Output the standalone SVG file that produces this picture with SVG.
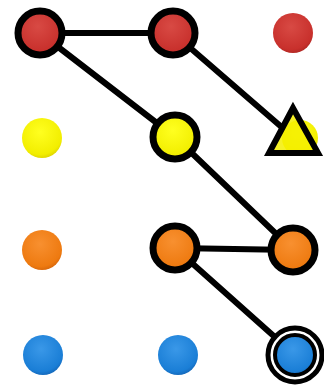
<svg xmlns="http://www.w3.org/2000/svg" width="324" height="392" viewBox="0 0 324 392">
<defs>
<radialGradient id="gr" cx="0.45" cy="0.35" r="0.7"><stop offset="0" stop-color="#d84a44"/><stop offset="0.8" stop-color="#c8302c"/><stop offset="1" stop-color="#a82420"/></radialGradient>
<radialGradient id="gy" cx="0.45" cy="0.35" r="0.7"><stop offset="0" stop-color="#ffff20"/><stop offset="0.8" stop-color="#f2ee00"/><stop offset="1" stop-color="#d8cc00"/></radialGradient>
<radialGradient id="go" cx="0.45" cy="0.35" r="0.7"><stop offset="0" stop-color="#f89030"/><stop offset="0.8" stop-color="#ee7a10"/><stop offset="1" stop-color="#d06008"/></radialGradient>
<radialGradient id="gb" cx="0.45" cy="0.35" r="0.7"><stop offset="0" stop-color="#3a98e8"/><stop offset="0.8" stop-color="#1a7ed6"/><stop offset="1" stop-color="#1260b0"/></radialGradient>
</defs>
<style>
.ln{stroke:#000;stroke-width:6;fill:none;stroke-linecap:round}
.ring{stroke:#000;stroke-width:7}
</style>
<rect width="324" height="392" fill="#fff"/>
<g id="connectors">
<line class="ln" x1="40" y1="33" x2="173" y2="33"/>
<line class="ln" x1="40" y1="33" x2="175" y2="137"/>
<line class="ln" x1="173" y1="33" x2="285" y2="130"/>
<line class="ln" x1="175" y1="137" x2="293" y2="250"/>
<line class="ln" x1="175" y1="248" x2="293" y2="250"/>
<line class="ln" x1="175" y1="248" x2="295" y2="355"/>
</g>
<g id="r1"><circle cx="40" cy="33" r="22" fill="url(#gr)" class="ring"/></g>
<g id="r2"><circle cx="173" cy="33" r="22" fill="url(#gr)" class="ring"/></g>
<g id="r3"><circle cx="293" cy="33" r="20" fill="url(#gr)"/></g>
<g id="y1"><circle cx="42" cy="138" r="20" fill="url(#gy)"/></g>
<g id="y2"><circle cx="175" cy="137" r="22" fill="url(#gy)" class="ring"/></g>
<g id="y3"><circle cx="300" cy="138" r="18" fill="url(#gy)"/><polygon points="293,108 269,153 318,153" fill="#f4ef00" stroke="#000" stroke-width="6" fill-opacity="0.85"/></g>
<g id="o1"><circle cx="42" cy="250" r="20" fill="url(#go)"/></g>
<g id="o2"><circle cx="175" cy="248" r="22" fill="url(#go)" class="ring"/></g>
<g id="o3"><circle cx="293" cy="250" r="22" fill="url(#go)" class="ring"/></g>
<g id="b1"><circle cx="43" cy="355" r="20" fill="url(#gb)"/></g>
<g id="b2"><circle cx="178" cy="355" r="20" fill="url(#gb)"/></g>
<g id="b3"><circle cx="295" cy="355" r="27" fill="#fff" stroke="#000" stroke-width="5"/><circle cx="295" cy="355" r="20" fill="url(#gb)" stroke="#000" stroke-width="4"/></g>
</svg>
